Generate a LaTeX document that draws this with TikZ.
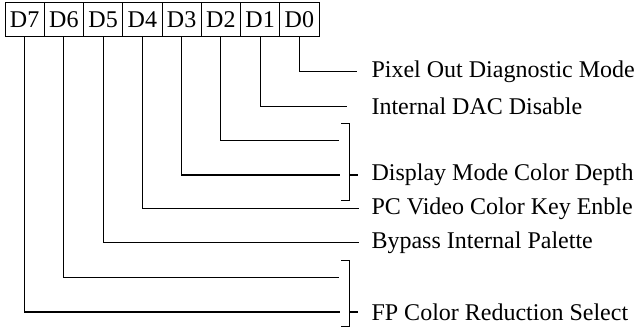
\documentclass[tikz,border=0pt]{standalone}
\usepackage{fontspec}
\setmainfont{Liberation Serif}
\usetikzlibrary{positioning}

\begin{document}
\begin{tikzpicture}[
    x=1pt, y=-1pt,
    font=\fontsize{24}{28}\selectfont,
    line width=1.1pt,
    bitbox/.style={draw, line width=0.9pt, outer sep=0pt, inner sep=0pt, minimum width=39.25pt, minimum height=34pt},
    field/.style={anchor=west, inner sep=0pt},
    brace/.style={line width=1.1pt}
]
\useasboundingbox (0,0) rectangle (640,329);
% register bits
\node[bitbox] (d7) at (24.6,19.5) {D7};
\node[bitbox, right=0pt of d7] (d6) {D6};
\node[bitbox, right=0pt of d6] (d5) {D5};
\node[bitbox, right=0pt of d5] (d4) {D4};
\node[bitbox, right=0pt of d4] (d3) {D3};
\node[bitbox, right=0pt of d3] (d2) {D2};
\node[bitbox, right=0pt of d2] (d1) {D1};
\node[bitbox, right=0pt of d1] (d0) {D0};
% field names
\node[field] (l0) at (371,71.7) {Pixel Out Diagnostic Mode};
\node[field] (l1) at (371,106.7) {Internal DAC Disable};
\node[field] (l3) at (371,175) {Display Mode Color Depth};
\node[field] (l4) at (371,208.5) {PC Video Color Key Enble};
\node[field] (l5) at (371,242.3) {Bypass Internal Palette};
\node[field] (l7) at (371,312) {FP Color Reduction Select};
% line ends and brackets
\coordinate (c2) at (339,140.7);
\coordinate (c3) at (340,175);
\coordinate (c6) at (339,277.3);
\coordinate (c7) at (340,312);
\coordinate (b1t) at (349.3,123.3);
\coordinate (b1m) at (349.3,175);
\coordinate (b1b) at (349.3,200.7);
\coordinate (b2t) at (349.3,260.7);
\coordinate (b2m) at (349.3,312);
\coordinate (b2b) at (349.3,326.7);
% connectors
\draw[shorten >=14pt] (d0.south) |- (l0.west);
\draw[shorten >=24pt] (d1.south) |- (l1.west);
\draw (d2.south) |- (c2);
\draw (d3.south) |- (c3);
\draw[shorten >=12pt] (d4.south) |- (l4.west);
\draw[shorten >=12pt] (d5.south) |- (l5.west);
\draw (d6.south) |- (c6);
\draw (d7.south) |- (c7);
\draw[brace] ([xshift=-8pt]b1t) -- (b1t) -- (b1b) -- ([xshift=-8pt]b1b);
\draw[brace, shorten >=13pt] (b1m) -- (l3.west);
\draw[brace] ([xshift=-8pt]b2t) -- (b2t) -- (b2b) -- ([xshift=-8pt]b2b);
\draw[brace, shorten >=13pt] (b2m) -- (l7.west);
\end{tikzpicture}
\end{document}
